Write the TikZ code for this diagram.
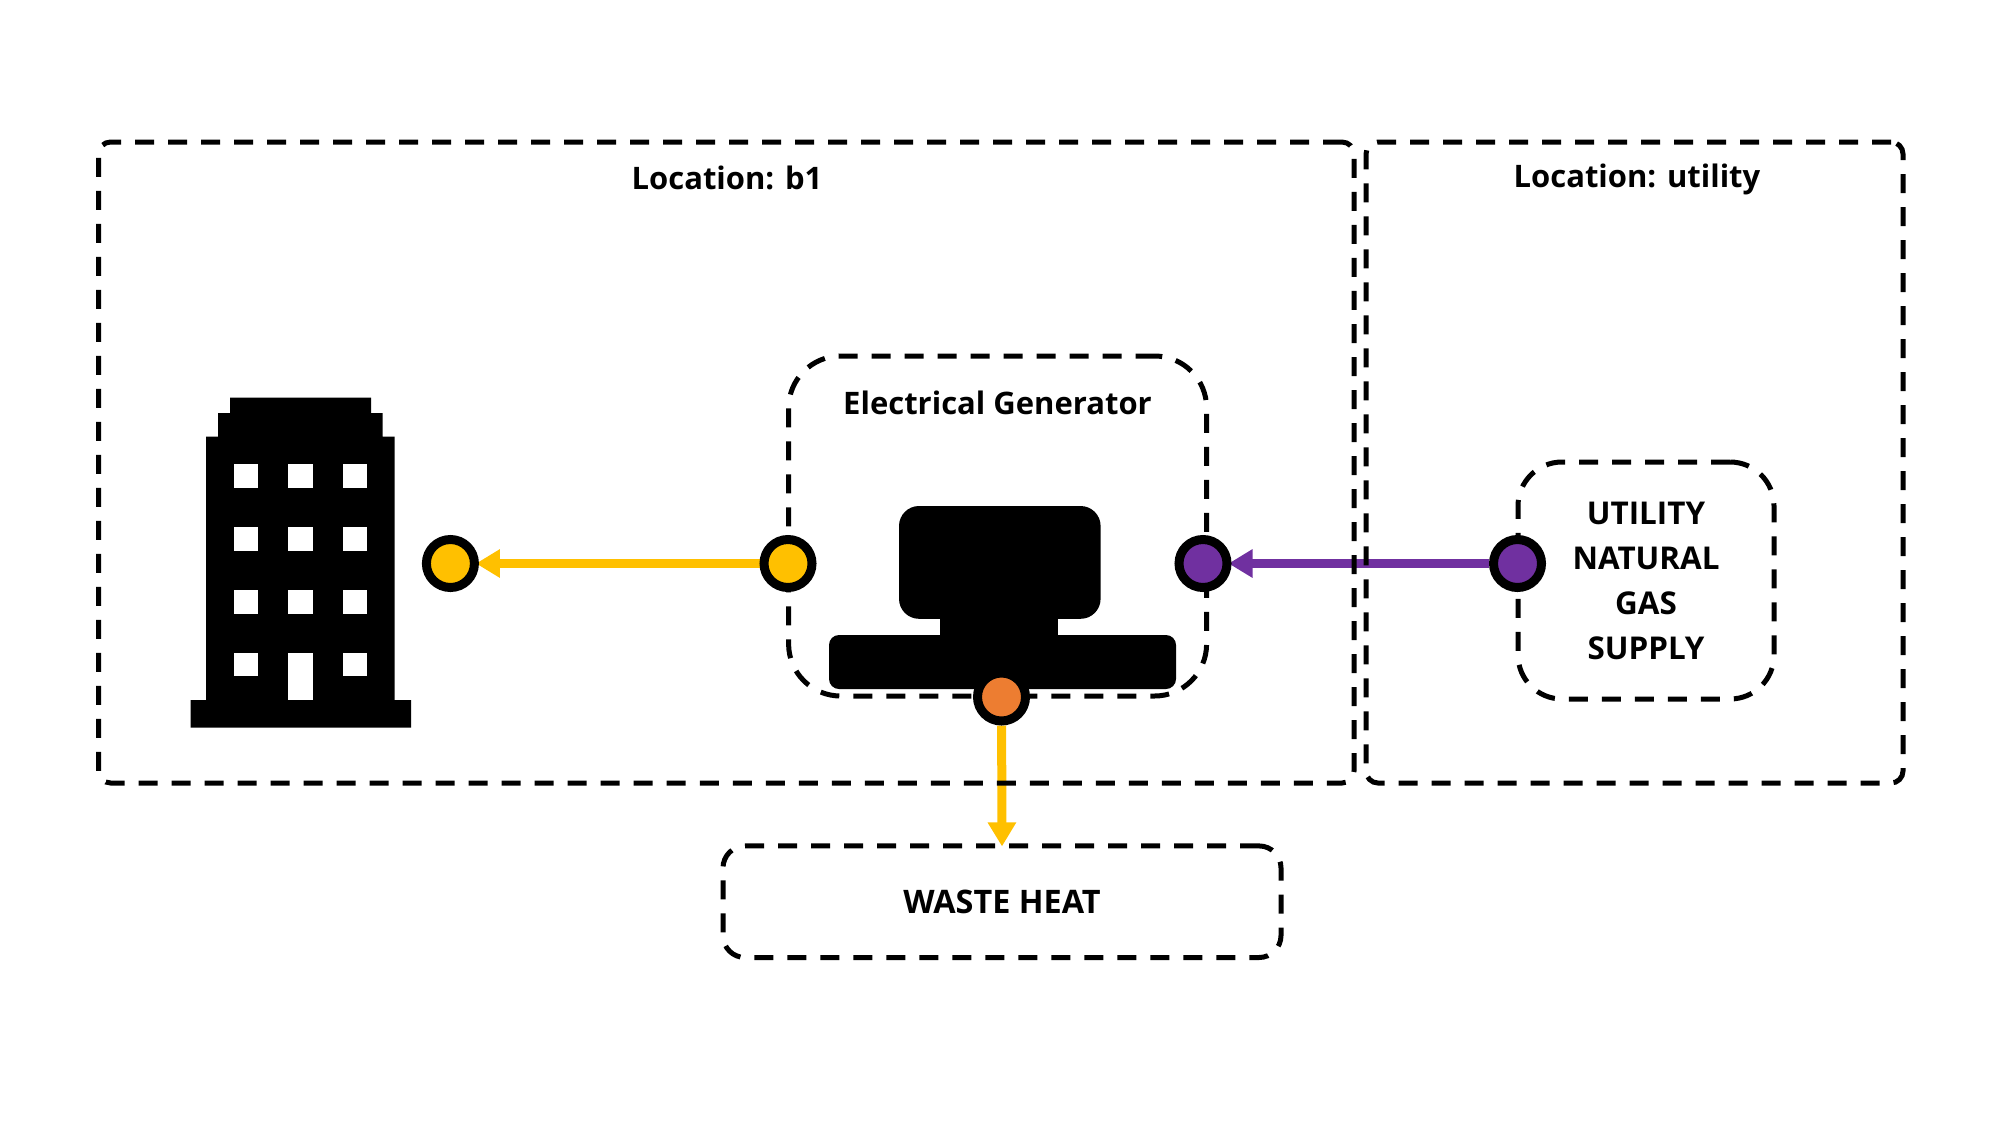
\documentclass[tikz,border=0pt]{standalone}
\usepackage{fontspec}
\setmainfont{Open Sans}
\usetikzlibrary{arrows.meta,backgrounds}
\definecolor{heatyellow}{HTML}{FFC000}
\definecolor{gaspurple}{HTML}{7030A0}
\definecolor{lossorange}{HTML}{ED7D31}
\tikzset{
zone/.style={
  draw,
  rectangle,
  dash pattern=on 9.5pt off 7pt,
  line width=2.5pt,
  align=center,
  inner sep=0pt,
  font=\fontsize{15.7}{22.5}\selectfont\bfseries
  },
title/.style={
  font=\fontsize{15.5}{20}\selectfont\bfseries,
  inner sep=0pt
  },
port/.style={
  draw,
  circle,
  line width=4.5pt,
  minimum size=24pt,
  inner sep=0pt
  },
flow/.style={
  line width=4.5pt,
  shorten >=-1.5pt,
  -{Triangle[length=12pt,width=13.5pt]}
  }
}
\begin{document}
\begin{tikzpicture}[x=0.5pt,y=-0.5pt]
\useasboundingbox (0,0) rectangle (2000,1125);
% location boxes
\node[zone,rounded corners=6pt,minimum width=627.7pt,minimum height=320.5pt] (b1) at (726.3,462.5) {};
\node[zone,rounded corners=6pt,minimum width=268.5pt,minimum height=320.5pt] (utility) at (1634.5,462.5) {};
\node[title] (b1title) at (727,177.5) {Location: b1};
\node[title] (utilitytitle) at (1637,179.5) {Location: utility};
% building
\fill (190.6,700) -- (206,700) -- (206,436.7) -- (218,436.7) -- (218,413) -- (230,413) -- (230,397.5)
  -- (371,397.5) -- (371,413) -- (382.6,413) -- (382.6,436.7) -- (394.6,436.7) -- (394.6,700)
  -- (411,700) -- (411,727.5) -- (190.6,727.5) -- cycle;
\foreach \wy in {464,527,590,652.7}
  \foreach \wx in {233.5,288.4,343.3}
    \fill[white] (\wx,\wy) rectangle +(24.1,23.7);
\fill[white] (288.4,676) rectangle (312.5,700);
% generator
\node[zone,rounded corners=26pt,minimum width=209pt,minimum height=170pt] (generator) at (997.6,526) {};
\node[title] (generatortitle) at (997.5,403) {Electrical Generator};
\fill[rounded corners=10pt] (899,506) rectangle (1100.6,618.8);
\fill (940,610) rectangle (1057.7,660);
\fill[rounded corners=5pt] (829,635) rectangle (1176,689);
% gas supply and waste heat
\node[zone,rounded corners=22pt,minimum width=128pt,minimum height=118.5pt] (supply) at (1646,580.5) {UTILITY\\NATURAL\\GAS\\SUPPLY};
\node[zone,rounded corners=11pt,font=\fontsize{16.2}{20}\selectfont\bfseries,minimum width=279pt,minimum height=55.8pt] (waste) at (1002,901.7) {WASTE HEAT};
% ports
\node[port,fill=heatyellow] (demand) at (450.4,563.5) {};
\node[port,fill=heatyellow] (genout) at (788,563.5) {};
\node[port,fill=gaspurple] (genin) at (1203,563.5) {};
\node[port,fill=gaspurple] (supplyout) at (1517.5,563.5) {};
\node[port,fill=lossorange] (genloss) at (1001.5,697) {};
\begin{scope}[on background layer]
\draw[flow,heatyellow] (genout) -- (demand);
\draw[flow,gaspurple] (supplyout) -- (genin);
\draw[flow,heatyellow] (genloss) -- (waste.north);
\end{scope}
\end{tikzpicture}
\end{document}
